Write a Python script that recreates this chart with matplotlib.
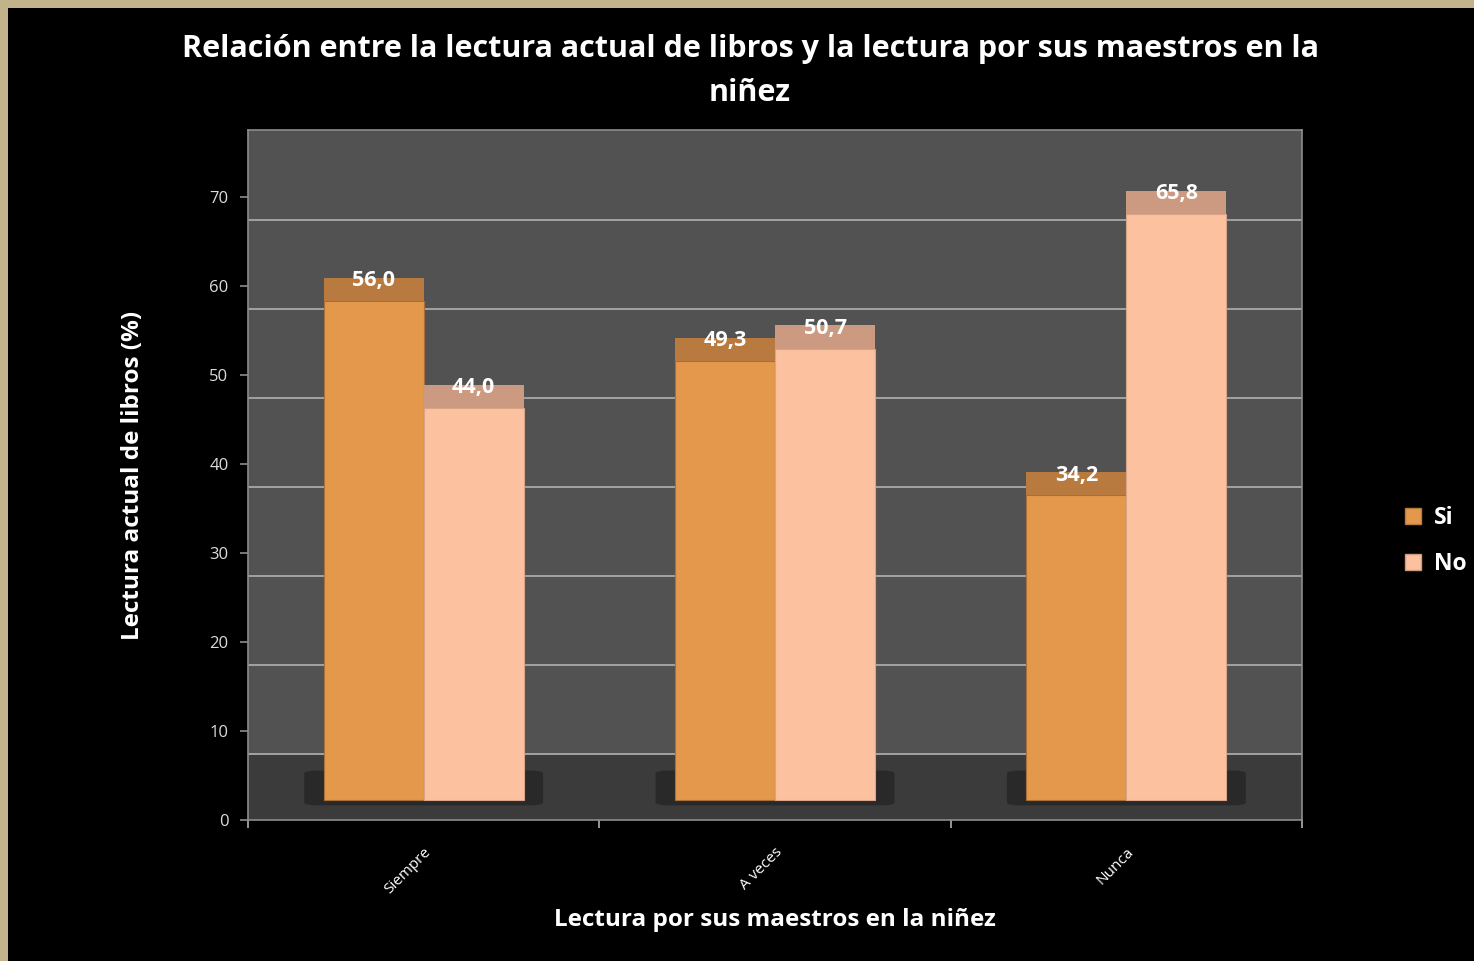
"""
Relación entre la lectura actual de libros y la lectura por sus maestros
en la niñez -- bar chart in the old Excel 3D style (dark background).
"""
import matplotlib
matplotlib.use("Agg")
import matplotlib.pyplot as plt
from matplotlib.patches import Patch, FancyBboxPatch, Rectangle
import numpy as np

# ─── data ───────────────────────────────────────────────────────────────────
categories = ["Siempre", "A veces", "Nunca"]
series_names = ["Si", "No"]
si_values = [56.0, 49.3, 34.2]
no_values = [44.0, 50.7, 65.8]
y_ticks = [0, 10, 20, 30, 40, 50, 60, 70]

# ─── style ──────────────────────────────────────────────────────────────────
FONT = "Open Sans"
FRONT = {"Si": "#e4984c", "No": "#fcc2a0"}
CAP = {"Si": "#b87a3f", "No": "#cc9a80"}
EDGE = {"Si": "#a96f38", "No": "#d9a488"}
WALL = "#525252"
FLOOR = "#3b3b3b"
GRID = "#a3a3a3"

BASE = 2.25        # front edge of the floor (3D depth offset)
FLOOR_TOP = 7.4    # where the back wall starts
CAP_H = 2.6        # visible top face of each bar
BAR_W = 0.285

plt.rcParams["font.family"] = [FONT, "DejaVu Sans"]

fig = plt.figure(figsize=(14.74, 9.61), dpi=100)
fig.patch.set_facecolor("#c2b48a")
# black slide area inside the beige frame
fig.add_artist(Rectangle((8 / 1474, 0), 1, 1 - 8 / 961, transform=fig.transFigure,
                         facecolor="black", edgecolor="none", zorder=0))

ax = fig.add_axes([248 / 1474, 141 / 961, 1054 / 1474, 690 / 961])
ax.set_facecolor(WALL)
ax.set_xlim(0, len(categories))
ax.set_ylim(0, 77.5)

# floor + back-wall gridlines
ax.axhspan(0, FLOOR_TOP, color=FLOOR, zorder=0.5, lw=0)
for g in y_ticks[:-1]:
    ax.axhline(g + FLOOR_TOP, color=GRID, lw=1.4, zorder=1)

centers = np.arange(len(categories)) + 0.5
for c in centers:
    ax.add_patch(FancyBboxPatch((c - 0.32, 1.8), 0.64, 3.6,
                                boxstyle="round,pad=0.02,rounding_size=0.04",
                                facecolor="#282828", edgecolor="none",
                                alpha=0.9, zorder=1.5, mutation_aspect=8))

for name, vals, shift in [("Si", si_values, -BAR_W / 2), ("No", no_values, BAR_W / 2)]:
    xs = centers + shift
    ax.bar(xs, vals, width=BAR_W, bottom=BASE, color=FRONT[name],
           edgecolor=EDGE[name], linewidth=0.8, zorder=3)
    ax.bar(xs, [CAP_H] * len(vals), width=BAR_W, bottom=np.array(vals) + BASE,
           color=CAP[name], edgecolor="none", zorder=3)
    for x, v in zip(xs, vals):
        ax.text(x, v + BASE + 2.3, f"{v:.1f}".replace(".", ","), ha="center", va="center",
                color="white", fontsize=15.5, fontweight="bold", zorder=5)

# axes
for s in ax.spines.values():
    s.set_color("#8c8c8c")
    s.set_linewidth(1.2)

ax.set_yticks(y_ticks)
ax.tick_params(axis="y", colors="#8c8c8c", labelcolor="#dcdcdc", labelsize=12,
               length=6, width=1.2, pad=8)
ax.set_xticks(centers)
ax.set_xticklabels(categories, rotation=45, ha="right", rotation_mode="anchor")
ax.tick_params(axis="x", which="major", length=0, labelcolor="white", labelsize=11, pad=18)
ax.set_xticks(np.arange(len(categories) + 1), minor=True)
ax.tick_params(axis="x", which="minor", length=6, width=1.2, color="#b0b0b0")

ax.set_ylabel("Lectura actual de libros (%)", color="white", fontsize=17.5,
              fontweight="bold", labelpad=46)
ax.set_xlabel("Lectura por sus maestros en la niñez", color="white", fontsize=17.5,
              fontweight="bold", labelpad=8)

fig.text(750 / 1474, 1 - 71 / 961,
         "Relación entre la lectura actual de libros y la lectura por sus maestros en la\nniñez",
         ha="center", va="center", color="white", fontsize=22, fontweight="bold",
         linespacing=1.62)

handles = [Patch(facecolor=FRONT[n], edgecolor=CAP[n], label=n) for n in series_names]
leg = fig.legend(handles=handles, loc="center left",
                 bbox_to_anchor=(1389 / 1474, 1 - 541 / 961), frameon=False,
                 prop={"family": FONT, "weight": "bold", "size": 16.5},
                 labelcolor="white", handlelength=0.7, handleheight=0.7,
                 handletextpad=0.55, labelspacing=0.95, borderpad=0.2)

fig.savefig("out.png", dpi=100, facecolor=fig.get_facecolor())
